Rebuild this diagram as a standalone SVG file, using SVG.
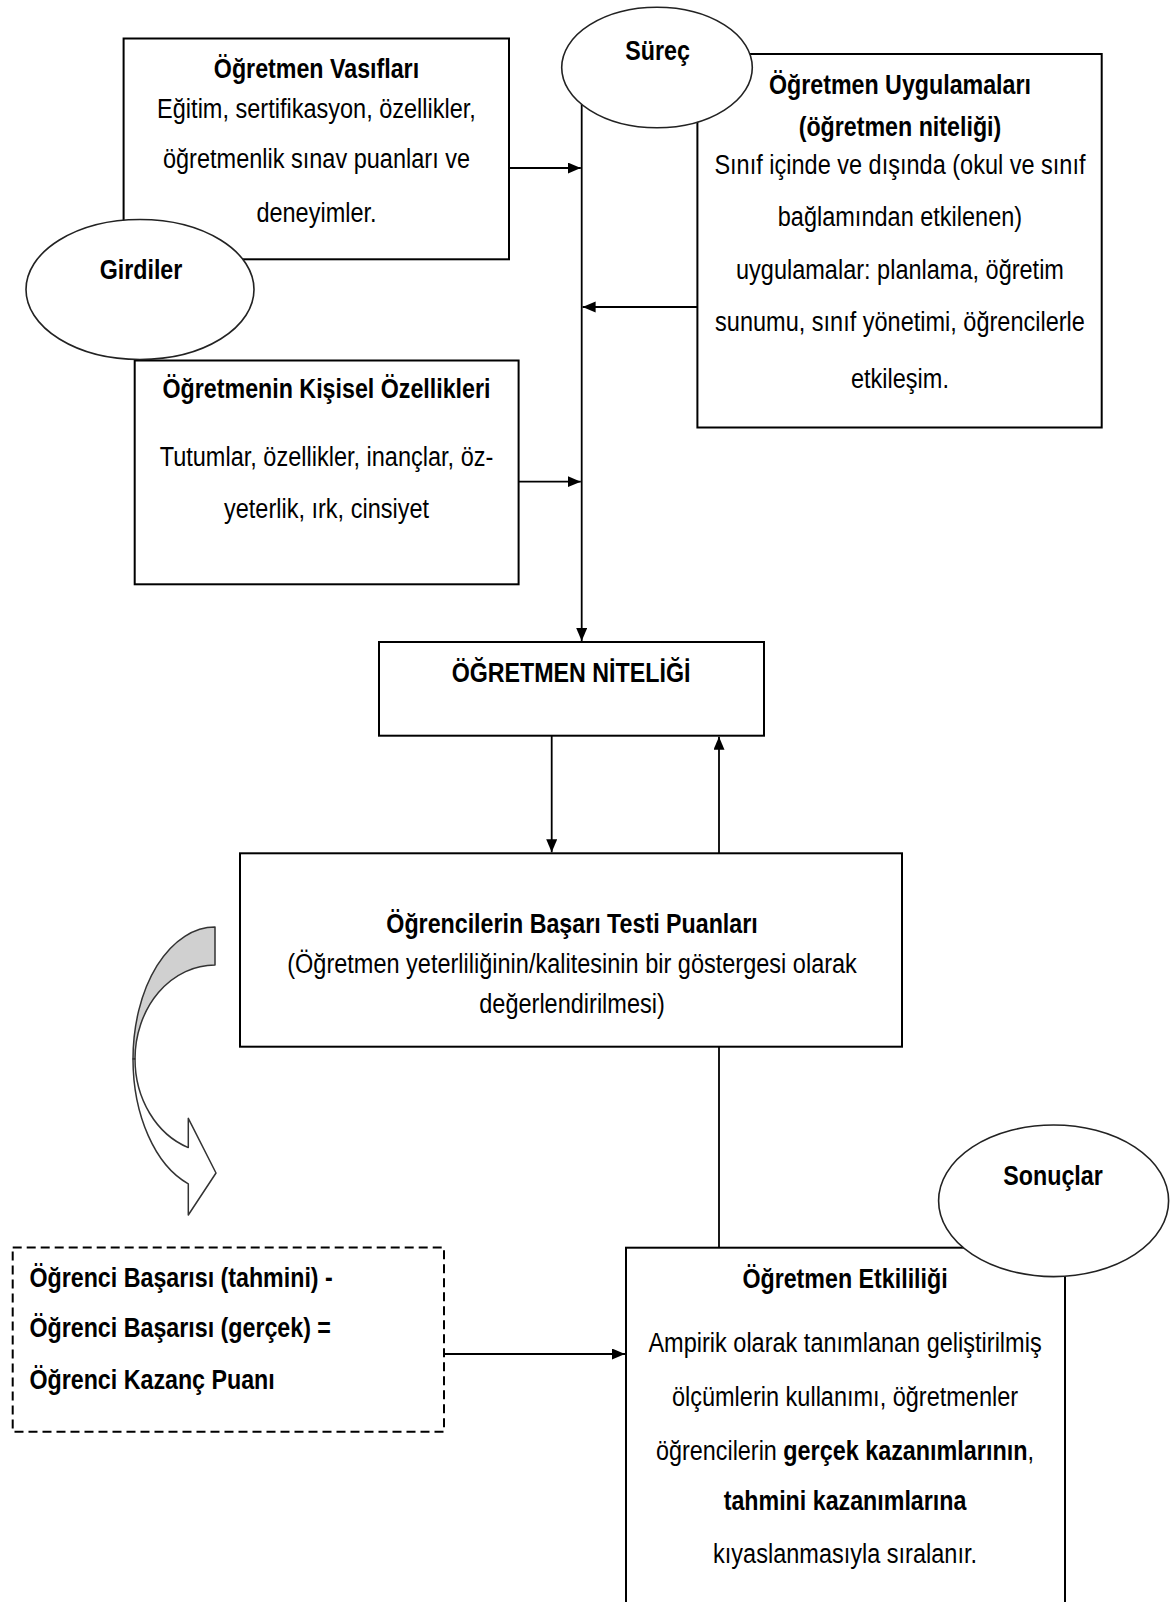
<svg xmlns="http://www.w3.org/2000/svg" width="1170" height="1602" viewBox="0 0 1170 1602">
<style>
.box{fill:#fff;stroke:#000;stroke-width:2}
.ell{fill:#fff;stroke:#222;stroke-width:1.6}
.dash{fill:#fff;stroke:#000;stroke-width:2;stroke-dasharray:9 5}
.ln{fill:none;stroke:#000;stroke-width:1.8}
.t{font-family:"Liberation Sans",Arial,sans-serif;font-size:28px;fill:#000;text-anchor:middle}
.b{font-weight:bold}
.l{text-anchor:start}
.crv{stroke:#333;stroke-width:1.5;stroke-linejoin:round}
</style>
<defs>
<marker id="ah" markerUnits="userSpaceOnUse" markerWidth="14" markerHeight="12" refX="13" refY="5.5" orient="auto">
<path d="M0,0 L13,5.5 L0,11 Z" fill="#000"/>
</marker>
</defs>
<rect x="0" y="0" width="1170" height="1602" fill="#fff"/>

<g id="connectors">
<line class="ln" x1="581.7" y1="67" x2="581.7" y2="641" marker-end="url(#ah)"/>
<line class="ln" x1="509" y1="168" x2="580.8" y2="168" marker-end="url(#ah)"/>
<line class="ln" x1="697.4" y1="307" x2="582.6" y2="307" marker-end="url(#ah)"/>
<line class="ln" x1="518.6" y1="481.7" x2="580.8" y2="481.7" marker-end="url(#ah)"/>
<line class="ln" x1="551.7" y1="735.7" x2="551.7" y2="852.3" marker-end="url(#ah)"/>
<line class="ln" x1="719" y1="853.3" x2="719" y2="736.7" marker-end="url(#ah)"/>
<line class="ln" x1="719" y1="1046.7" x2="719" y2="1247.7"/>
<line class="ln" x1="444" y1="1354" x2="625" y2="1354" marker-end="url(#ah)"/>
</g>

<g id="node-vasiflar">
<rect class="box" x="123.6" y="38.5" width="385.4" height="220.8"/>
<text class="t b" x="381.3" y="78" transform="scale(0.83 1)">Öğretmen Vasıfları</text>
<text class="t" x="376.8" y="118" transform="scale(0.84 1)">Eğitim, sertifikasyon, özellikler,</text>
<text class="t" x="376.8" y="168" transform="scale(0.84 1)">öğretmenlik sınav puanları ve</text>
<text class="t" x="376.8" y="222" transform="scale(0.84 1)">deneyimler.</text>
</g>

<g id="node-uygulamalar">
<rect class="box" x="697.4" y="54" width="404.3" height="373.5"/>
<text class="t b" x="1084.3" y="94" transform="scale(0.83 1)">Öğretmen Uygulamaları</text>
<text class="t b" x="1084.3" y="136" transform="scale(0.83 1)">(öğretmen niteliği)</text>
<text class="t" x="1071.4" y="174" transform="scale(0.84 1)">Sınıf içinde ve dışında (okul ve sınıf</text>
<text class="t" x="1071.4" y="226" transform="scale(0.84 1)">bağlamından etkilenen)</text>
<text class="t" x="1071.4" y="279" transform="scale(0.84 1)">uygulamalar: planlama, öğretim</text>
<text class="t" x="1071.4" y="331" transform="scale(0.84 1)">sunumu, sınıf yönetimi, öğrencilerle</text>
<text class="t" x="1071.4" y="388" transform="scale(0.84 1)">etkileşim.</text>
</g>

<g id="node-kisisel">
<rect class="box" x="134.7" y="360.5" width="383.9" height="223.8"/>
<text class="t b" x="393.4" y="398" transform="scale(0.83 1)">Öğretmenin Kişisel Özellikleri</text>
<text class="t" x="388.7" y="466" transform="scale(0.84 1)">Tutumlar, özellikler, inançlar, öz-</text>
<text class="t" x="388.7" y="518" transform="scale(0.84 1)">yeterlik, ırk, cinsiyet</text>
</g>

<g id="node-girdiler">
<ellipse class="ell" cx="140" cy="289.5" rx="114" ry="70"/>
<text class="t b" x="169.9" y="279" transform="scale(0.83 1)">Girdiler</text>
</g>

<g id="node-surec">
<ellipse class="ell" cx="657" cy="67.5" rx="95.3" ry="60.2"/>
<text class="t b" x="792.2" y="60" transform="scale(0.83 1)">Süreç</text>
</g>

<g id="node-nitelik">
<rect class="box" x="379" y="642" width="385" height="93.7"/>
<text class="t b" x="688" y="682" transform="scale(0.83 1)">ÖĞRETMEN NİTELİĞİ</text>
</g>

<g id="node-basari">
<rect class="box" x="240" y="853.3" width="662" height="193.4"/>
<text class="t b" x="689.2" y="933" transform="scale(0.83 1)">Öğrencilerin Başarı Testi Puanları</text>
<text class="t" x="681" y="973" transform="scale(0.84 1)">(Öğretmen yeterliliğinin/kalitesinin bir göstergesi olarak</text>
<text class="t" x="681" y="1013" transform="scale(0.84 1)">değerlendirilmesi)</text>
</g>

<g id="node-curved-arrow">
<path class="crv" fill="#d0d0d0" d="M215,927 A82,132 0 0 0 133,1059 L135,1059 A80,94 0 0 1 215,965 Z"/>
<path class="crv" fill="#fff" d="M133,1059 A82,132 0 0 0 188.3,1183.8 L188.3,1215 L216,1173 L188.3,1118.3 L188.3,1147.6 A80,94 0 0 1 135,1059 Z"/>
</g>

<g id="node-kazanc">
<rect class="dash" x="12.7" y="1247.5" width="431.3" height="184.2"/>
<text class="t b l" x="35.5" y="1287" transform="scale(0.83 1)">Öğrenci Başarısı (tahmini) -</text>
<text class="t b l" x="35.5" y="1337" transform="scale(0.83 1)">Öğrenci Başarısı (gerçek) =</text>
<text class="t b l" x="35.5" y="1389" transform="scale(0.83 1)">Öğrenci Kazanç Puanı</text>
</g>

<g id="node-etkililik">
<rect class="box" x="626" y="1247.7" width="439" height="380"/>
<text class="t b" x="1018.1" y="1288" transform="scale(0.83 1)">Öğretmen Etkililiği</text>
<text class="t" x="1006" y="1352" transform="scale(0.84 1)">Ampirik olarak tanımlanan geliştirilmiş</text>
<text class="t" x="1006" y="1406" transform="scale(0.84 1)">ölçümlerin kullanımı, öğretmenler</text>
<text class="t" x="1012" y="1460" transform="scale(0.835 1)">öğrencilerin <tspan class="b">gerçek kazanımlarının</tspan>,</text>
<text class="t b" x="1018.1" y="1510" transform="scale(0.83 1)">tahmini kazanımlarına</text>
<text class="t" x="1006" y="1563" transform="scale(0.84 1)">kıyaslanmasıyla sıralanır.</text>
</g>

<g id="node-sonuclar">
<ellipse class="ell" cx="1053.6" cy="1200.8" rx="115" ry="75.8"/>
<text class="t b" x="1268.7" y="1185" transform="scale(0.83 1)">Sonuçlar</text>
</g>
</svg>
